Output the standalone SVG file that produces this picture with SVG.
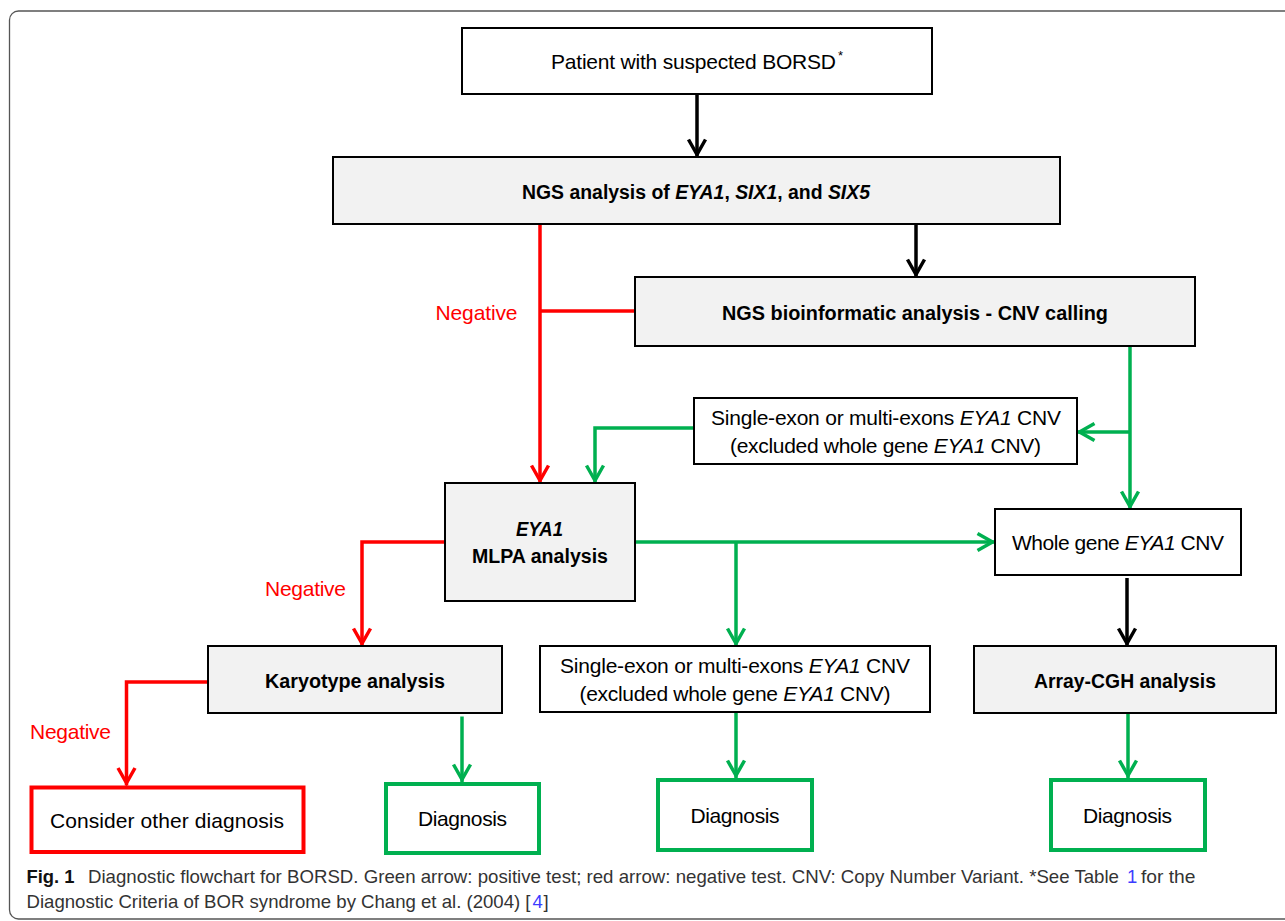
<svg xmlns="http://www.w3.org/2000/svg" width="1285" height="921" viewBox="0 0 1285 921">
<style>
.box{stroke:#000;stroke-width:2}
.w{fill:#fff}
.g{fill:#f2f2f2}
.dg{fill:#fff;stroke:#00b050;stroke-width:4}
.dr{fill:#fff;stroke:#ff0000;stroke-width:4}
text{font-family:"Liberation Sans",Arial,sans-serif}
.r{font-size:21px;fill:#000}
.b{font-size:19.5px;font-weight:bold;fill:#000}
.neg{font-size:21px;fill:#ff0000}
.cap{font-size:18.5px;fill:#333}
.i{font-style:italic}
.lk{font-size:18.5px;fill:#3c3cff}
.cb{stroke:#000;stroke-width:3.5;fill:none}
.cr{stroke:#ff0000;stroke-width:3.5;fill:none}
.cg{stroke:#00b050;stroke-width:3.5;fill:none}
</style>
<defs>
<marker id="ak" viewBox="-20 -12 24 24" refX="2.5" refY="0" markerWidth="24" markerHeight="24" markerUnits="userSpaceOnUse" orient="auto" overflow="visible"><path d="M-15,-8.5 L0,0 L-15,8.5" fill="none" stroke="#000" stroke-width="3.5"/></marker>
<marker id="ar" viewBox="-20 -12 24 24" refX="2.5" refY="0" markerWidth="24" markerHeight="24" markerUnits="userSpaceOnUse" orient="auto" overflow="visible"><path d="M-15,-8.5 L0,0 L-15,8.5" fill="none" stroke="#ff0000" stroke-width="3.5"/></marker>
<marker id="ag" viewBox="-20 -12 24 24" refX="2.5" refY="0" markerWidth="24" markerHeight="24" markerUnits="userSpaceOnUse" orient="auto" overflow="visible"><path d="M-15,-8.5 L0,0 L-15,8.5" fill="none" stroke="#00b050" stroke-width="3.5"/></marker>
</defs>
<rect x="0" y="0" width="1285" height="921" fill="#fff"/>
<rect x="9.5" y="11" width="1300" height="908" rx="9" fill="none" stroke="#555" stroke-width="1.3"/>

<g id="connectors">
<path class="cb" d="M697,94 V157" marker-end="url(#ak)"/>
<path class="cb" d="M916,224 V277" marker-end="url(#ak)"/>
<path class="cb" d="M1127,578 V646" marker-end="url(#ak)"/>
<path class="cr" d="M540,224 V483" marker-end="url(#ar)"/>
<path class="cr" d="M635,311 H540"/>
<path class="cr" d="M445,542 H362 V646" marker-end="url(#ar)"/>
<path class="cr" d="M208,682 H126.5 V785.5" marker-end="url(#ar)"/>
<path class="cg" d="M1130,346 V509" marker-end="url(#ag)"/>
<path class="cg" d="M1130,432 H1077" marker-end="url(#ag)"/>
<path class="cg" d="M694,428 H595 V483" marker-end="url(#ag)"/>
<path class="cg" d="M635,542 H995" marker-end="url(#ag)"/>
<path class="cg" d="M736,542 V646" marker-end="url(#ag)"/>
<path class="cg" d="M462,716.5 V782" marker-end="url(#ag)"/>
<path class="cg" d="M736,712 V778" marker-end="url(#ag)"/>
<path class="cg" d="M1128,713 V778" marker-end="url(#ag)"/>
<text class="neg" x="476.5" y="320" text-anchor="middle" textLength="82">Negative</text>
<text class="neg" x="305.5" y="596" text-anchor="middle" textLength="81">Negative</text>
<text class="neg" x="70.5" y="739" text-anchor="middle" textLength="81">Negative</text>
</g>

<g id="patient">
<rect class="box w" x="462" y="28" width="470" height="66"/>
<text class="r" x="693.5" y="69" text-anchor="middle" textLength="285">Patient with suspected BORSD</text>
<text x="838" y="60" font-size="13" fill="#000">*</text>
</g>

<g id="ngs">
<rect class="box g" x="333" y="157" width="727" height="67"/>
<text class="b" x="696" y="199" text-anchor="middle" textLength="348" lengthAdjust="spacingAndGlyphs">NGS analysis of <tspan class="i">EYA1</tspan>, <tspan class="i">SIX1</tspan>, and <tspan class="i">SIX5</tspan></text>
</g>

<g id="cnvcalling">
<rect class="box g" x="635" y="277" width="560" height="69"/>
<text class="b" x="915" y="320" text-anchor="middle" textLength="386" lengthAdjust="spacingAndGlyphs">NGS bioinformatic analysis - CNV calling</text>
</g>

<g id="single1">
<rect class="box w" x="694" y="398" width="383" height="66"/>
<text class="r" x="886" y="425" text-anchor="middle" textLength="350">Single-exon or multi-exons <tspan class="i">EYA1</tspan> CNV</text>
<text class="r" x="885.5" y="452.5" text-anchor="middle" textLength="311">(excluded whole gene <tspan class="i">EYA1</tspan> CNV)</text>
</g>

<g id="mlpa">
<rect class="box g" x="445" y="483" width="190" height="118"/>
<text class="b i" x="539.5" y="535.5" text-anchor="middle" textLength="47" lengthAdjust="spacingAndGlyphs">EYA1</text>
<text class="b" x="540" y="563" text-anchor="middle" textLength="136" lengthAdjust="spacingAndGlyphs">MLPA analysis</text>
</g>

<g id="wholegene">
<rect class="box w" x="995" y="509" width="246" height="66"/>
<text class="r" x="1118" y="550" text-anchor="middle" textLength="212">Whole gene <tspan class="i">EYA1</tspan> CNV</text>
</g>

<g id="karyotype">
<rect class="box g" x="208" y="646" width="294" height="67"/>
<text class="b" x="355" y="687.5" text-anchor="middle" textLength="180" lengthAdjust="spacingAndGlyphs">Karyotype analysis</text>
</g>

<g id="single2">
<rect class="box w" x="540" y="646" width="390" height="66"/>
<text class="r" x="735" y="673" text-anchor="middle" textLength="350">Single-exon or multi-exons <tspan class="i">EYA1</tspan> CNV</text>
<text class="r" x="735" y="700.5" text-anchor="middle" textLength="311">(excluded whole gene <tspan class="i">EYA1</tspan> CNV)</text>
</g>

<g id="arraycgh">
<rect class="box g" x="974" y="646" width="302" height="67"/>
<text class="b" x="1125" y="687.5" text-anchor="middle" textLength="182" lengthAdjust="spacingAndGlyphs">Array-CGH analysis</text>
</g>

<g id="consider">
<rect class="dr" x="31.5" y="787.5" width="272" height="64.5"/>
<text class="r" x="167" y="828" text-anchor="middle" textLength="234">Consider other diagnosis</text>
</g>

<g id="diag1">
<rect class="dg" x="386" y="784" width="153" height="69"/>
<text class="r" x="462.5" y="826" text-anchor="middle" textLength="89">Diagnosis</text>
</g>

<g id="diag2">
<rect class="dg" x="658" y="780" width="154" height="70"/>
<text class="r" x="735" y="822.5" text-anchor="middle" textLength="89">Diagnosis</text>
</g>

<g id="diag3">
<rect class="dg" x="1051" y="780" width="154" height="70"/>
<text class="r" x="1127.5" y="822.5" text-anchor="middle" textLength="89">Diagnosis</text>
</g>

<g id="caption">
<text x="26.5" y="883" font-size="19" font-weight="bold" fill="#111" textLength="48" lengthAdjust="spacingAndGlyphs">Fig. 1</text>
<text class="cap" x="88" y="883" textLength="1031" lengthAdjust="spacingAndGlyphs">Diagnostic flowchart for BORSD. Green arrow: positive test; red arrow: negative test. CNV: Copy Number Variant. *See Table</text>
<text class="lk" x="1127" y="883">1</text>
<text class="cap" x="1141" y="883" textLength="54.5" lengthAdjust="spacingAndGlyphs">for the</text>
<text class="cap" x="26.5" y="908" textLength="504" lengthAdjust="spacingAndGlyphs">Diagnostic Criteria of BOR syndrome by Chang et al. (2004) [</text>
<text class="lk" x="532.5" y="908">4</text>
<text class="cap" x="543.5" y="908">]</text>
</g>
</svg>
